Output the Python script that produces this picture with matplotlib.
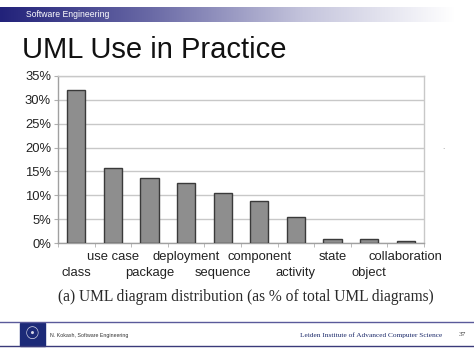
import numpy as np
import matplotlib
matplotlib.use("Agg")
import matplotlib.pyplot as plt
from matplotlib.colors import LinearSegmentedColormap

# data
categories = ["class", "use case", "package", "deployment", "sequence",
              "component", "activity", "state", "object", "collaboration"]
share_pct = [32.0, 15.8, 13.7, 12.6, 10.4, 8.9, 5.4, 0.9, 0.8, 0.5]
y_ticks = [0, 5, 10, 15, 20, 25, 30, 35]

W, H = 474, 355
plt.rcParams["font.family"] = ["Liberation Sans", "DejaVu Sans"]
fig = plt.figure(figsize=(W / 100, H / 100), dpi=100)


def fx(x):
    return x / W


def fy(y):
    return 1 - y / H


# header band: navy fading to white
hdr = fig.add_axes([0, fy(22), 455 / W, 15 / H])
cmap = LinearSegmentedColormap.from_list("hdr", ["#22227a", "#6a6aa6", "#c4c4dc", "#ffffff"])
hdr.imshow(np.linspace(0, 1, 256)[None, :], aspect="auto", cmap=cmap, extent=[0, 1, 0, 1])
hdr.set_axis_off()
fig.text(fx(26), fy(14.5), "Software Engineering", color="white", fontsize=6.2, va="center")

fig.text(fx(22), fy(57.5), "UML Use in Practice", fontsize=21, va="baseline", color="#111111")

# bar chart
ax = fig.add_axes([fx(58), fy(243), 366 / W, 167 / H])
x = np.arange(len(categories))
ax.bar(x, share_pct, width=0.5, color="#8e8e8e", edgecolor="#3a3a3a", linewidth=1.0, zorder=3)
ax.set_xlim(-0.5, len(categories) - 0.5)
ax.set_ylim(0, 35)
ax.set_yticks(y_ticks)
ax.set_yticklabels([f"{v}%" for v in y_ticks], fontsize=9.4, color="#222222")
ax.yaxis.grid(True, color="#c8c8c8", linewidth=1.0, zorder=0)

# staggered category labels: odd ones on the upper row, even ones on the lower row
ax.set_xticks(x[1::2])
ax.set_xticklabels(categories[1::2], fontsize=9.4, color="#222222")
ax.set_xticks(np.arange(-0.5, len(categories)), minor=True)
ax.tick_params(axis="x", which="major", length=0, pad=6)
ax.tick_params(axis="x", which="minor", length=3, color="#b0b0b0")
low = ax.secondary_xaxis("bottom")
low.set_xticks(x[0::2])
low.set_xticklabels(categories[0::2], fontsize=9.4, color="#222222")
low.tick_params(length=0, pad=17)
low.spines["bottom"].set_visible(False)
ax.tick_params(axis="y", length=3, color="#b0b0b0", pad=2)
for s in ax.spines.values():
    s.set_color("#c8c8c8")
    s.set_linewidth(1.0)
ax.spines["left"].set_color("#a0a0a0")
ax.spines["bottom"].set_color("#a0a0a0")

fig.text(fx(246), fy(297), "(a) UML diagram distribution (as % of total UML diagrams)",
         family=["Liberation Serif", "DejaVu Serif"], fontsize=11.2, ha="center", va="center",
         color="#2a2a2a")

fig.text(fx(443), fy(149), ".", fontsize=6, color="#888888", ha="center")

# footer
fig.add_artist(plt.Line2D([fx(0), fx(474)], [fy(322), fy(322)], color="#5a5a9a", lw=1.0))
fig.add_artist(plt.Line2D([fx(0), fx(474)], [fy(345.5), fy(345.5)], color="#3a3a7a", lw=1.0))
fig.add_artist(plt.Rectangle((fx(20), fy(346)), 25 / W, 23 / H, color="#1c2a78"))
fig.text(fx(32.5), fy(334.5), "\u2609", fontsize=12, color="#d8d8e8", ha="center", va="center")
fig.text(fx(50), fy(336), "N. Kokash, Software Engineering", fontsize=3.8, va="center",
         color="#333333")
fig.text(fx(300), fy(335), "Leiden Institute of Advanced Computer Science",
         family=["Liberation Serif", "DejaVu Serif"], fontsize=5.3, va="center", color="#1c2a6a")
fig.text(fx(462), fy(335), "37", family=["Liberation Serif", "DejaVu Serif"], fontsize=5.3,
         va="center", ha="center", color="#333333")

fig.savefig("out.png", dpi=100)
